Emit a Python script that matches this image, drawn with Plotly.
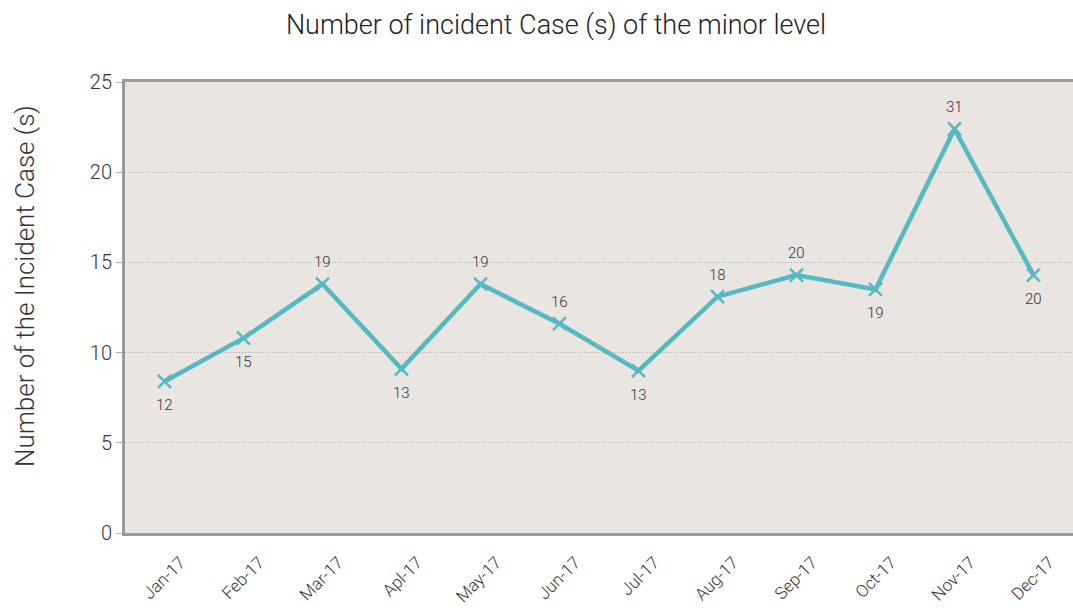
import plotly.graph_objects as go

months = ["Jan-17", "Feb-17", "Mar-17", "Apl-17", "May-17", "Jun-17",
          "Jul-17", "Aug-17", "Sep-17", "Oct-17", "Nov-17", "Dec-17"]
plotted = [8.4, 10.8, 13.8, 9.1, 13.8, 11.6, 9.0, 13.1, 14.3, 13.5, 22.4, 14.3]
labels = ["12", "15", "19", "13", "19", "16", "13", "18", "20", "19", "31", "20"]
label_above = [False, False, True, False, True, True, False, True, True, False, True, False]
y_ticks = [0, 5, 10, 15, 20, 25]

FONT = "Roboto, Liberation Sans, sans-serif"
W = 300
TXT = "#333333"
LINE = "#55B9C1"

fig = go.Figure()
fig.add_trace(go.Scatter(
    x=months, y=plotted, mode="lines+markers",
    line=dict(color=LINE, width=4.5),
    marker=dict(symbol="x-thin", size=13, line=dict(color=LINE, width=2.5)),
    cliponaxis=False, showlegend=False, hoverinfo="x+y",
))

for m, v, t, up in zip(months, plotted, labels, label_above):
    fig.add_annotation(x=m, y=v, text=t, showarrow=False,
                       yshift=22 if up else -24,
                       font=dict(family=FONT, size=15, color=TXT, weight=W))

# y-axis title placed as a rotated annotation (container pixels)
fig.add_annotation(text="Number of the Incident Case (s)", textangle=-90,
                   xref="paper", yref="paper",
                   x=(25 - 125) / 948, y=(533 - 286) / 451,
                   xanchor="center", yanchor="middle", showarrow=False,
                   font=dict(family=FONT, size=26, color=TXT, weight=W))

fig.update_layout(
    width=1073, height=610,
    margin=dict(l=125, r=0, t=82, b=77, autoexpand=False),
    paper_bgcolor="white", plot_bgcolor="#E9E5E1",
    title=dict(text="Number of incident Case (s) of the minor level",
               x=556 / 1073, xref="container", xanchor="center",
               y=1 - 25 / 610, yref="container", yanchor="middle",
               font=dict(family=FONT, size=27, color="#222222", weight=W)),
    font=dict(family=FONT, color=TXT, weight=W),
)
fig.update_xaxes(
    type="category", range=[-0.5, 11.5], automargin=False,
    showline=True, linecolor="#9a9a9a", linewidth=3, mirror=True,
    showgrid=False, ticks="", tickangle=-45,
    ticklabelshift=16, ticklabelstandoff=10,
    tickfont=dict(family=FONT, size=17, color=TXT, weight=W),
)
fig.update_yaxes(
    range=[0, 25], tickvals=y_ticks, automargin=False,
    showline=True, linecolor="#9a9a9a", linewidth=3,
    showgrid=True, gridcolor="#a8a8a8", griddash="1px,2px", gridwidth=1,
    ticks="outside", ticklen=6, tickcolor="#b0b0b0", tickwidth=1,
    tickfont=dict(family=FONT, size=20, color=TXT, weight=W),
    zeroline=False,
)

fig.write_html("out.html", config={"displayModeBar": False},
               post_script="document.body.style.margin='0';"
                           "document.body.style.overflow='hidden';")
